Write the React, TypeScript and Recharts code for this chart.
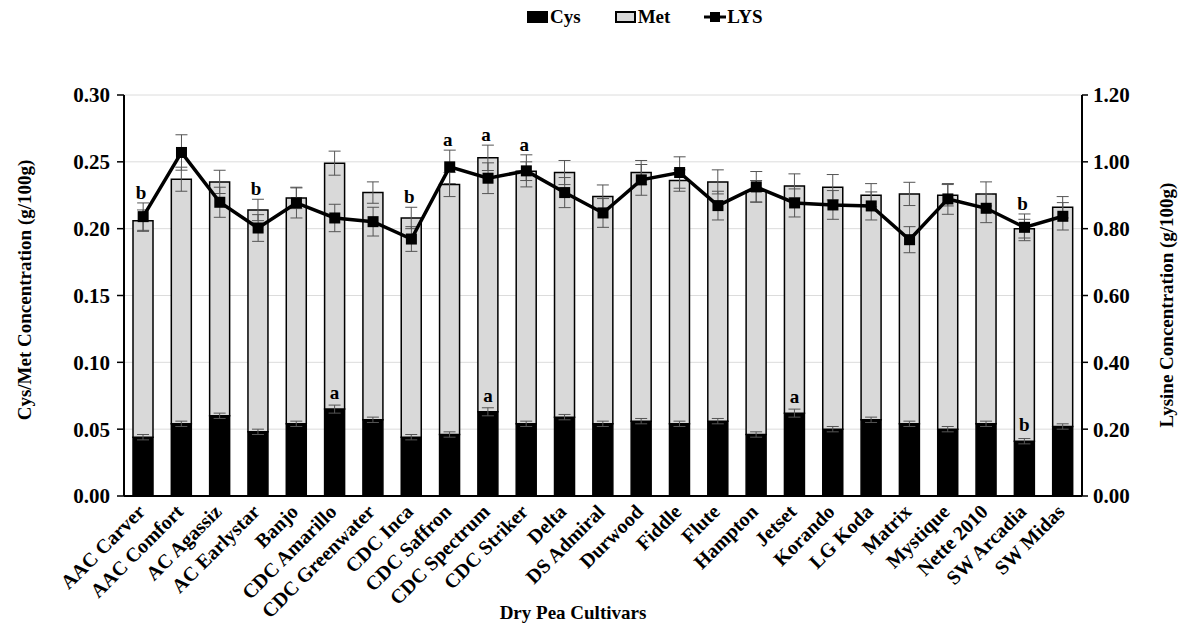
import React from "react";
import {
  ComposedChart,
  Bar,
  Line,
  XAxis,
  YAxis,
  CartesianGrid,
  ErrorBar,
  LabelList,
  Legend,
} from "recharts";

const FONT = "'Liberation Serif', 'Times New Roman', serif";

const categories = [
  "AAC Carver", "AAC Comfort", "AC Agassiz", "AC Earlystar", "Banjo",
  "CDC Amarillo", "CDC Greenwater", "CDC Inca", "CDC Saffron", "CDC Spectrum",
  "CDC Striker", "Delta", "DS Admiral", "Durwood", "Fiddle", "Flute",
  "Hampton", "Jetset", "Korando", "LG Koda", "Matrix", "Mystique",
  "Nette 2010", "SW Arcadia", "SW Midas",
];

const cysValues = [
  0.044, 0.054, 0.060, 0.048, 0.054, 0.065, 0.057, 0.044, 0.046, 0.063,
  0.054, 0.059, 0.054, 0.056, 0.054, 0.056, 0.046, 0.062, 0.050, 0.057,
  0.054, 0.050, 0.054, 0.041, 0.052,
];

const metValues = [
  0.162, 0.183, 0.175, 0.166, 0.169, 0.184, 0.170, 0.164, 0.187, 0.190,
  0.189, 0.183, 0.170, 0.186, 0.182, 0.179, 0.182, 0.170, 0.181, 0.168,
  0.172, 0.175, 0.172, 0.159, 0.164,
];

const lysValues = [
  0.836, 1.028, 0.879, 0.802, 0.877, 0.832, 0.821, 0.769, 0.985, 0.951,
  0.973, 0.908, 0.847, 0.946, 0.968, 0.869, 0.925, 0.877, 0.871, 0.868,
  0.767, 0.889, 0.861, 0.804, 0.837,
];

const cysErrors = [
  0.002, 0.002, 0.002, 0.002, 0.002, 0.003, 0.002, 0.002, 0.002, 0.003,
  0.002, 0.002, 0.002, 0.002, 0.002, 0.002, 0.002, 0.003, 0.002, 0.002,
  0.002, 0.002, 0.002, 0.002, 0.002,
];

const metErrors = [
  0.008, 0.009, 0.0087, 0.008, 0.008, 0.009, 0.008, 0.008, 0.009, 0.0095,
  0.007, 0.009, 0.0087, 0.009, 0.008, 0.009, 0.008, 0.009, 0.0095, 0.0087,
  0.0087, 0.008, 0.009, 0.007, 0.008,
];

const lysErrors = [
  0.041, 0.053, 0.045, 0.04, 0.045, 0.041, 0.043, 0.037, 0.05, 0.046,
  0.048, 0.045, 0.043, 0.046, 0.047, 0.043, 0.046, 0.042, 0.043, 0.042,
  0.039, 0.046, 0.043, 0.04, 0.041,
];

const cysLetters = [
  "", "", "", "", "", "a", "", "", "", "a",
  "", "", "", "", "", "", "", "a", "", "",
  "", "", "", "b", "",
];

const lysLetters = [
  "b", "", "", "b", "", "", "", "b", "a", "a",
  "a", "", "", "", "", "", "", "", "", "",
  "", "", "", "b", "",
];

const leftTicks = [0, 0.05, 0.1, 0.15, 0.2, 0.25, 0.3];
const rightTicks = [0, 0.2, 0.4, 0.6, 0.8, 1.0, 1.2];

const LEFT_MAX = 0.3;
const RIGHT_MAX = 1.2;

const data = categories.map((name, i) => ({
  name,
  cys: cysValues[i],
  met: metValues[i],
  lys: lysValues[i],
  cysErr: cysErrors[i],
  metErr: metErrors[i],
  lysErr: lysErrors[i],
  cysLetter: cysLetters[i],
  lysLetter: lysLetters[i],
  // highest error-bar top, expressed on the left axis
  letterAnchor: Math.max(
    cysValues[i] + metValues[i] + metErrors[i],
    ((lysValues[i] + lysErrors[i]) * LEFT_MAX) / RIGHT_MAX
  ),
}));

const textStyle = {
  fontFamily: FONT,
  fontWeight: "bold" as const,
  fontSize: 19,
  fill: "#000",
};

const yTickStyle = { ...textStyle, fontSize: 21 };

const XTick = (props: any) => {
  const { x, y, payload } = props;
  return (
    <g transform={`translate(${x + 3},${y + 17})`}>
      <text
        x={0}
        y={0}
        transform="rotate(-45)"
        textAnchor="end"
        style={{ ...textStyle, fontSize: 20 }}
      >
        {payload.value}
      </text>
    </g>
  );
};

const SquareDot = (props: any) => {
  const { cx, cy } = props;
  if (cx == null || cy == null) return null;
  const s = 11;
  return <rect x={cx - s / 2} y={cy - s / 2} width={s} height={s} fill="#000" />;
};

const CysLetter = (props: any) => {
  const { x, y, width, value } = props;
  if (!value) return null;
  return (
    <text x={x + width / 2} y={y - 10} textAnchor="middle" style={textStyle}>
      {value}
    </text>
  );
};

const LysLetter = (props: any) => {
  const { x, y, value } = props;
  if (!value) return null;
  return (
    <text x={x - 2} y={y - 4} textAnchor="middle" style={textStyle}>
      {value}
    </text>
  );
};

const renderLegend = () => (
  <div
    style={{
      display: "flex",
      alignItems: "center",
      fontFamily: FONT,
      fontWeight: "bold",
      fontSize: 19,
      color: "#000",
      whiteSpace: "nowrap",
    }}
  >
    <svg width={21} height={12} style={{ display: "block" }}>
      <rect x={0} y={0} width={21} height={12} fill="#000" />
    </svg>
    <span style={{ marginLeft: 2, marginRight: 34 }}>Cys</span>
    <svg width={21} height={12} style={{ display: "block" }}>
      <rect x={1} y={1} width={19} height={10} fill="#d9d9d9" stroke="#000" strokeWidth={2} />
    </svg>
    <span style={{ marginLeft: 2, marginRight: 34 }}>Met</span>
    <svg width={22} height={12} style={{ display: "block" }}>
      <line x1={0} y1={6} x2={22} y2={6} stroke="#000" strokeWidth={3} />
      <rect x={6} y={1} width={10} height={10} fill="#000" />
    </svg>
    <span style={{ marginLeft: 1 }}>LYS</span>
  </div>
);

export default function App() {
  return (
    <div
      style={{
        position: "absolute",
        left: 0,
        top: 0,
        width: 1186,
        height: 624,
        background: "#fff",
      }}
    >
      <ComposedChart
        width={1186}
        height={624}
        data={data}
        margin={{ top: 95, right: 0, left: 0, bottom: 0 }}
      >
        <CartesianGrid
          yAxisId="left"
          vertical={false}
          stroke="#dcdcdc"
          strokeWidth={1}
        />
        <XAxis
          dataKey="name"
          interval={0}
          height={128}
          tickLine={false}
          tickSize={0}
          tickMargin={0}
          axisLine={{ stroke: "#000", strokeWidth: 2 }}
          tick={<XTick />}
        />
        <YAxis
          yAxisId="left"
          orientation="left"
          width={124}
          domain={[0, LEFT_MAX]}
          ticks={leftTicks}
          interval={0}
          tickFormatter={(v: number) => v.toFixed(2)}
          tickSize={7}
          tickMargin={7}
          axisLine={{ stroke: "#000", strokeWidth: 2 }}
          tickLine={{ stroke: "#000", strokeWidth: 1.5 }}
          tick={yTickStyle}
        />
        <YAxis
          yAxisId="right"
          orientation="right"
          width={104}
          domain={[0, RIGHT_MAX]}
          ticks={rightTicks}
          interval={0}
          tickFormatter={(v: number) => v.toFixed(2)}
          tickSize={6}
          tickMargin={5}
          axisLine={{ stroke: "#000", strokeWidth: 2 }}
          tickLine={{ stroke: "#000", strokeWidth: 1.5 }}
          tick={yTickStyle}
        />
        <Legend
          content={renderLegend}
          layout="horizontal"
          verticalAlign="middle"
          align="center"
          wrapperStyle={{ position: "absolute", top: 6, left: 527, width: "auto" }}
        />
        <Bar
          yAxisId="left"
          dataKey="cys"
          stackId="s"
          barSize={20}
          fill="#000"
          stroke="#000"
          strokeWidth={1.5}
          isAnimationActive={false}
        >
          <ErrorBar dataKey="cysErr" width={6} stroke="#555" strokeWidth={1} direction="y" />
          <LabelList dataKey="cysLetter" content={<CysLetter />} />
        </Bar>
        <Bar
          yAxisId="left"
          dataKey="met"
          stackId="s"
          barSize={20}
          fill="#d9d9d9"
          stroke="#000"
          strokeWidth={1.5}
          isAnimationActive={false}
        >
          <ErrorBar dataKey="metErr" width={6} stroke="#555" strokeWidth={1} direction="y" />
        </Bar>
        <Line
          yAxisId="right"
          dataKey="lys"
          stroke="#000"
          strokeWidth={3.5}
          dot={<SquareDot />}
          activeDot={false}
          isAnimationActive={false}
        >
          <ErrorBar dataKey="lysErr" width={6} stroke="#555" strokeWidth={1} direction="y" />
        </Line>
        <Line
          yAxisId="left"
          dataKey="letterAnchor"
          stroke="none"
          dot={false}
          activeDot={false}
          legendType="none"
          isAnimationActive={false}
        >
          <LabelList dataKey="lysLetter" content={<LysLetter />} />
        </Line>
      </ComposedChart>
      <svg
        width={1186}
        height={624}
        style={{ position: "absolute", left: 0, top: 0, pointerEvents: "none" }}
      >
        <text
          transform="translate(31,290) rotate(-90)"
          textAnchor="middle"
          style={textStyle}
        >
          Cys/Met Concentration (g/100g)
        </text>
        <text
          transform="translate(1173,305) rotate(-90)"
          textAnchor="middle"
          style={textStyle}
        >
          Lysine Concentration (g/100g)
        </text>
        <text x={573} y={619} textAnchor="middle" style={textStyle}>
          Dry Pea Cultivars
        </text>
      </svg>
    </div>
  );
}
